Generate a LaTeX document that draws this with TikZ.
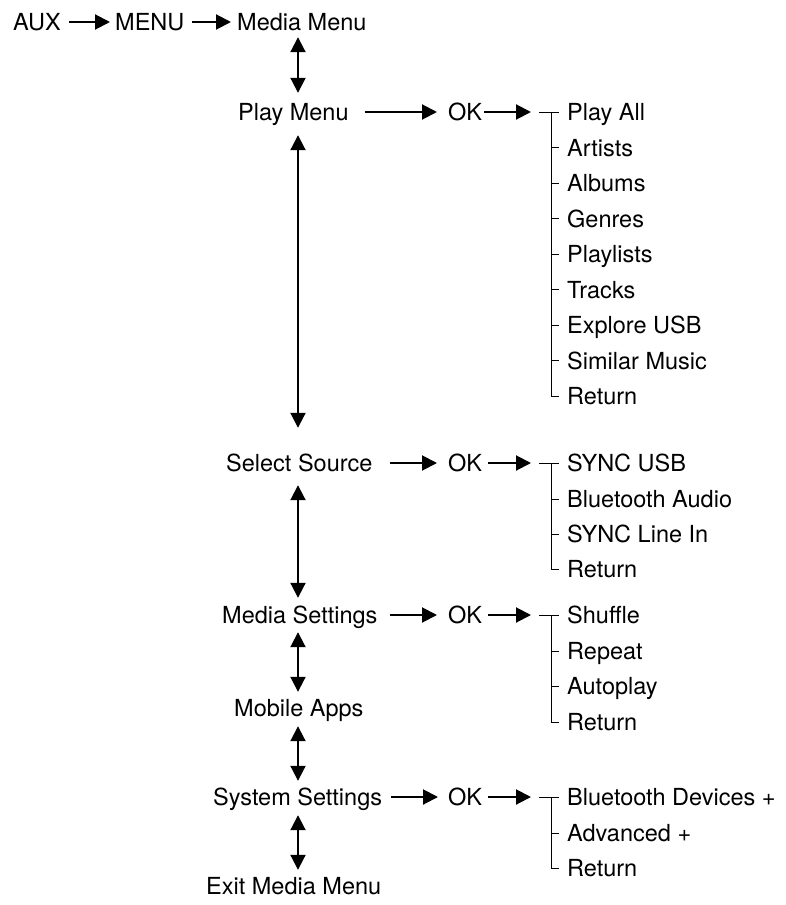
\documentclass[tikz,border=0pt]{standalone}
\usepackage{fontspec}
\setmainfont{TeX Gyre Heros}
\usetikzlibrary{arrows.meta}
\begin{document}
\begin{tikzpicture}[x=1pt,y=-1pt,
  lbl/.style={anchor=west,inner sep=0pt,text height=17pt,text depth=0pt,font=\fontsize{23.5}{28}\selectfont},
  arr/.style={line width=2pt,-{Triangle[length=15pt,width=15pt]}},
  darr/.style={line width=2pt,{Triangle[length=15pt,width=15pt]}-{Triangle[length=15pt,width=15pt]}},
  br/.style={line width=1pt}]
\useasboundingbox (0,0) rectangle (785,905);
\coordinate (col) at (298,0);
% top row
\node[lbl] (aux) at (13,22) {AUX};
\node[lbl] (menu) at (115,22) {MENU};
\node[lbl] (mm) at (237,22) {Media Menu};
\draw[arr,shorten <=8pt,shorten >=5pt] (aux.east) -- (menu.west);
\draw[arr,shorten <=7pt,shorten >=6pt] (menu.east) -- (mm.west);
% left column
\node[lbl] (pm) at (238,112) {Play Menu};
\node[lbl] (ss) at (226,463) {Select Source};
\node[lbl] (ms) at (222,615) {Media Settings};
\node[lbl] (ma) at (234,708) {Mobile Apps};
\node[lbl] (sy) at (213,797) {System Settings};
\node[lbl] (ex) at (206,886) {Exit Media Menu};
\draw[darr,shorten <=6.5pt,shorten >=10.5pt] (mm.south -| col) -- (pm.north -| col);
\draw[darr,shorten <=14.5pt,shorten >=26.5pt] (pm.south -| col) -- (ss.north -| col);
\draw[darr,shorten <=13.5pt,shorten >=8.5pt] (ss.south -| col) -- (ms.north -| col);
\draw[darr,shorten <=8.5pt,shorten >=7.5pt] (ms.south -| col) -- (ma.north -| col);
\draw[darr,shorten <=9.5pt,shorten >=7.5pt] (ma.south -| col) -- (sy.north -| col);
\draw[darr,shorten <=9.5pt,shorten >=7.5pt] (sy.south -| col) -- (ex.north -| col);
% OK nodes
\node[lbl] (ok1) at (448,112) {OK};
\node[lbl] (ok2) at (448,463) {OK};
\node[lbl] (ok3) at (448,615) {OK};
\node[lbl] (ok4) at (448,797) {OK};
\draw[arr,shorten <=16pt,shorten >=11pt] (pm.east) -- (ok1.west);
\draw[arr,shorten <=17pt,shorten >=11pt] (ss.east) -- (ok2.west);
\draw[arr,shorten <=12pt,shorten >=11pt] (ms.east) -- (ok3.west);
\draw[arr,shorten <=9pt,shorten >=10pt] (sy.east) -- (ok4.west);
% Play menu items
\node[lbl] (p1) at (567,112) {Play All};
\node[lbl] (p2) at (567,147.5) {Artists};
\node[lbl] (p3) at (567,183) {Albums};
\node[lbl] (p4) at (567,218.5) {Genres};
\node[lbl] (p5) at (567,254) {Playlists};
\node[lbl] (p6) at (567,289.5) {Tracks};
\node[lbl] (p7) at (567,325) {Explore USB};
\node[lbl] (p8) at (567,360.5) {Similar Music};
\node[lbl] (p9) at (567,396) {Return};
\draw[arr,shorten <=2pt,shorten >=36pt] (ok1.east) -- (p1.west);
\draw[br] ([xshift=-28pt]p1.west) -- ([xshift=-8pt]p1.west);
\draw[br] ([xshift=-16pt]p1.west) -- ([xshift=-16pt]p9.west) -- ([xshift=-8pt]p9.west);
\foreach \n in {p2,p3,p4,p5,p6,p7,p8}
  \draw[br] ([xshift=-16pt]\n.west) -- ([xshift=-8pt]\n.west);
% Select source items
\node[lbl] (s1) at (567,463) {SYNC USB};
\node[lbl] (s2) at (567,499) {Bluetooth Audio};
\node[lbl] (s3) at (567,534) {SYNC Line In};
\node[lbl] (s4) at (567,569) {Return};
\draw[arr,shorten <=6pt,shorten >=36pt] (ok2.east) -- (s1.west);
\draw[br] ([xshift=-28pt]s1.west) -- ([xshift=-8pt]s1.west);
\draw[br] ([xshift=-16pt]s1.west) -- ([xshift=-16pt]s4.west) -- ([xshift=-8pt]s4.west);
\foreach \n in {s2,s3}
  \draw[br] ([xshift=-16pt]\n.west) -- ([xshift=-8pt]\n.west);
% Media settings items
\node[lbl] (m1) at (567,615) {Shuffle};
\node[lbl] (m2) at (567,651) {Repeat};
\node[lbl] (m3) at (567,686) {Autoplay};
\node[lbl] (m4) at (567,722) {Return};
\draw[arr,shorten <=6pt,shorten >=36pt] (ok3.east) -- (m1.west);
\draw[br] ([xshift=-28pt]m1.west) -- ([xshift=-8pt]m1.west);
\draw[br] ([xshift=-16pt]m1.west) -- ([xshift=-16pt]m4.west) -- ([xshift=-8pt]m4.west);
\foreach \n in {m2,m3}
  \draw[br] ([xshift=-16pt]\n.west) -- ([xshift=-8pt]\n.west);
% System settings items
\node[lbl] (y1) at (567,797) {Bluetooth Devices +};
\node[lbl] (y2) at (567,833) {Advanced +};
\node[lbl] (y3) at (567,868) {Return};
\draw[arr,shorten <=6pt,shorten >=36pt] (ok4.east) -- (y1.west);
\draw[br] ([xshift=-28pt]y1.west) -- ([xshift=-8pt]y1.west);
\draw[br] ([xshift=-16pt]y1.west) -- ([xshift=-16pt]y3.west) -- ([xshift=-8pt]y3.west);
\draw[br] ([xshift=-16pt]y2.west) -- ([xshift=-8pt]y2.west);
\end{tikzpicture}
\end{document}
